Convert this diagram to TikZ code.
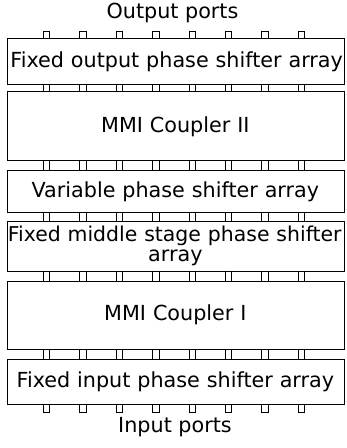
\documentclass[tikz,border=0pt]{standalone}
\usepackage{fontspec}
\setmainfont{DejaVu Sans}
\begin{document}
\begin{tikzpicture}[x=1bp,y=-1bp,
  txt/.style={font=\fontsize{20.8}{20.5}\selectfont},
  stage/.style={draw, line width=0.7pt, anchor=north west, inner xsep=3.5bp,
    inner ysep=0pt, minimum width=337bp, text width=330bp, align=center, txt},
  portline/.style={draw, line width=0.6pt},
  caption/.style={inner sep=0pt, anchor=base, txt}]
\useasboundingbox (0,0) rectangle (346,448);

% the six stacked stages
\node[stage, minimum height=45.5bp] (s1) at (6.5,38.5)
  {\mbox{Fixed output phase shifter array}};
\node[stage, minimum height=69bp] (s2) at (6.5,91.5) {MMI Coupler II};
\node[stage, minimum height=41.5bp] (s3) at (6.5,170.5)
  {Variable phase shifter array};
\node[stage, minimum height=49.5bp] (s4) at (6.5,221)
  {\hspace*{-2.5bp}\mbox{\fontsize{20.5}{20.5}\selectfont Fixed middle stage phase shifter}\\array};
\node[stage, minimum height=68.5bp] (s5) at (6.5,280.5) {MMI Coupler I};
\node[stage, minimum height=45.5bp] (s6) at (6.5,358.5)
  {Fixed input phase shifter array};

% port labels
\node[caption] (out) at (172.5,18.5) {Output ports};
\node[caption] (in) at (175,432) {Input ports};

% eight waveguide stubs per interface
\foreach \k in {0,...,7}{
  \pgfmathsetmacro{\xa}{43.25+36.4*\k}
  \pgfmathsetmacro{\xb}{\xa+6.5}
  % output stubs on top of the first stage
  \draw[portline] (\xa,38.5) |- (\xb,31.5) -- (\xb,38.5);
  % waveguide walls linking neighbouring stages
  \foreach \ya/\yb in {84/91.5, 160.5/170.5, 212/221, 270.5/280.5, 349/358.5}{
    \draw[portline] (\xa,\ya) -- (\xa,\yb) (\xb,\ya) -- (\xb,\yb);
  }
  % input stubs under the last stage
  \draw[portline] (\xa,404) |- (\xb,412) -- (\xb,404);
}
\end{tikzpicture}
\end{document}
